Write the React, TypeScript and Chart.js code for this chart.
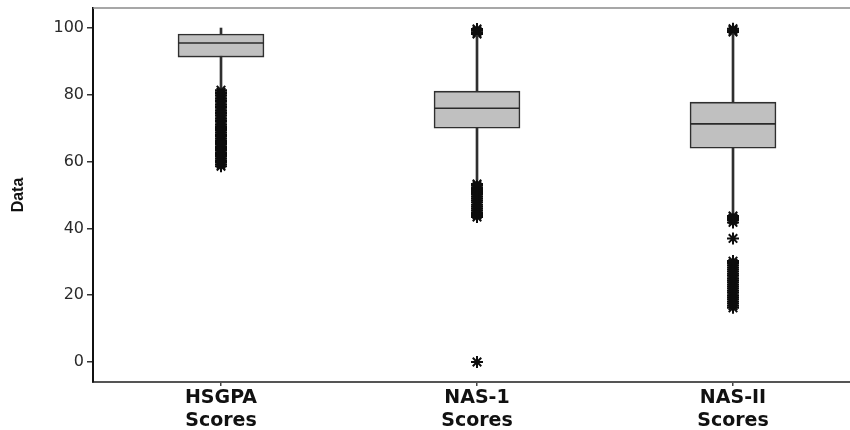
import React, { useEffect, useRef } from 'react';
import { Chart, registerables } from 'chart.js';

Chart.register(...registerables);

// ---- data ----
const categories: string[][] = [
  ['HSGPA', 'Scores'],
  ['NAS-1', 'Scores'],
  ['NAS-II', 'Scores'],
];
const positions = [1, 2, 3];
const q1 = [91.3, 70.0, 64.0];
const median = [95.5, 76.0, 71.3];
const q3 = [98.2, 81.1, 77.8];
const whiskerLow = [82.0, 54.5, 44.6];
const whiskerHigh = [100.0, 97.8, 98.3];

const outliersHSGPA = [
  58.6, 59.2, 59.9, 60.4, 61.0, 61.7, 62.3, 62.8, 63.5, 64.1, 64.6, 65.3, 65.9,
  66.4, 67.0, 67.7, 68.2, 68.8, 69.5, 70.1, 70.6, 71.2, 71.9, 72.4, 73.0, 73.7,
  74.3, 74.8, 75.4, 76.1, 76.6, 77.2, 77.9, 78.4, 79.0, 79.7, 80.3, 80.8, 81.4,
];
const outliersNAS1 = [
  98.2, 98.7, 99.2, 99.7,
  43.4, 44.0, 44.6, 45.3, 45.9, 46.5, 47.1, 47.8, 48.4, 49.0, 49.6, 50.3, 50.9,
  51.5, 52.1, 52.8, 53.3,
  0,
];
const outliersNAS2 = [
  98.8, 99.3, 99.8,
  41.8, 42.5, 43.1, 43.7,
  37.0,
  16.2, 16.8, 17.5, 18.1, 18.8, 19.4, 20.0, 20.7, 21.3, 22.0, 22.6, 23.2, 23.9,
  24.5, 25.1, 25.8, 26.4, 27.1, 27.7, 28.3, 29.0, 29.6, 30.2,
];
const yTicks = [0, 20, 40, 60, 80, 100];

const topBorder = {
  id: 'topBorder',
  afterDraw(chart: any) {
    const { ctx, chartArea } = chart;
    ctx.save();
    ctx.strokeStyle = '#8a8a8a';
    ctx.lineWidth = 1.5;
    ctx.beginPath();
    ctx.moveTo(chartArea.left, chartArea.top);
    ctx.lineTo(chartArea.right, chartArea.top);
    ctx.stroke();
    ctx.restore();
  },
};

export default function App() {
  const ref = useRef<HTMLCanvasElement | null>(null);

  useEffect(() => {
    if (!ref.current) return;
    const outlierData = [
      ...outliersHSGPA.map((y) => ({ x: positions[0], y })),
      ...outliersNAS1.map((y) => ({ x: positions[1], y })),
      ...outliersNAS2.map((y) => ({ x: positions[2], y })),
    ];
    const chart = new Chart(ref.current, {
      type: 'bar',
      data: {
        datasets: [
          {
            type: 'scatter',
            label: 'Median',
            data: positions.map((x, i) => ({ x, y: median[i] })),
            pointStyle: 'line',
            pointRadius: 43,
            borderColor: '#2a2a2a',
            backgroundColor: '#2a2a2a',
            borderWidth: 1.6,
            order: 0,
          } as any,
          {
            type: 'bar',
            label: 'Box',
            data: positions.map((x, i) => ({ x, y: [q1[i], q3[i]] })),
            backgroundColor: '#c0c0c0',
            borderColor: '#2f2f2f',
            borderWidth: 1.6,
            borderSkipped: false,
            barThickness: 86,
            grouped: false,
            order: 1,
          } as any,
          {
            type: 'bar',
            label: 'Whisker',
            data: positions.map((x, i) => ({ x, y: [whiskerLow[i], whiskerHigh[i]] })),
            backgroundColor: '#2f2f2f',
            borderWidth: 0,
            barThickness: 2,
            grouped: false,
            order: 2,
          } as any,
          {
            type: 'scatter',
            label: 'Outliers',
            data: outlierData,
            pointStyle: 'star',
            pointRadius: 6,
            borderColor: '#0d0d0d',
            backgroundColor: '#0d0d0d',
            borderWidth: 2,
            order: 3,
          } as any,
        ],
      },
      options: {
        animation: false,
        responsive: false,
        maintainAspectRatio: false,
        events: [],
        layout: { autoPadding: false, padding: { top: 8, right: 0, left: 0, bottom: 0 } },
        plugins: { legend: { display: false }, tooltip: { enabled: false } },
        scales: {
          x: {
            type: 'linear',
            min: 0.5,
            max: 3.457,
            offset: false,
            afterBuildTicks: (s: any) => {
              s.ticks = positions.map((v) => ({ value: v }));
            },
            afterFit: (s: any) => {
              s.height = 48;
              s.paddingLeft = 0;
              s.paddingRight = 0;
            },
            ticks: {
              callback: (v: any) => categories[positions.indexOf(Number(v))],
              font: { family: 'DejaVu Sans', size: 19, weight: 'bold' },
              color: '#111',
              padding: 1,
              maxRotation: 0,
              autoSkip: false,
            },
            grid: {
              display: true,
              drawOnChartArea: false,
              drawTicks: true,
              tickLength: 4,
              color: '#444',
              lineWidth: 1.5,
              offset: false,
            },
            border: { display: true, color: '#555', width: 2 },
          },
          y: {
            type: 'linear',
            min: -6,
            max: 106,
            afterBuildTicks: (s: any) => {
              s.ticks = yTicks.map((v) => ({ value: v }));
            },
            afterFit: (s: any) => {
              s.width = 93;
              s.paddingTop = 0;
              s.paddingBottom = 0;
            },
            ticks: {
              font: { family: 'DejaVu Sans', size: 16 },
              color: '#2a2a2a',
              padding: 3,
            },
            grid: {
              display: true,
              drawOnChartArea: false,
              drawTicks: true,
              tickLength: 6,
              color: '#333',
              lineWidth: 1.5,
            },
            border: { display: true, color: '#111', width: 2 },
            title: {
              display: true,
              text: 'Data',
              font: { family: 'Arial, sans-serif', size: 16, weight: 'bold' },
              color: '#111',
              padding: { top: 9, bottom: 0 },
            },
          },
        },
      } as any,
      plugins: [topBorder],
    });
    return () => chart.destroy();
  }, []);

  return (
    <div style={{ position: 'absolute', left: 0, top: 0, width: 850, height: 430, background: '#fff' }}>
      <canvas ref={ref} width={850} height={430} />
    </div>
  );
}
